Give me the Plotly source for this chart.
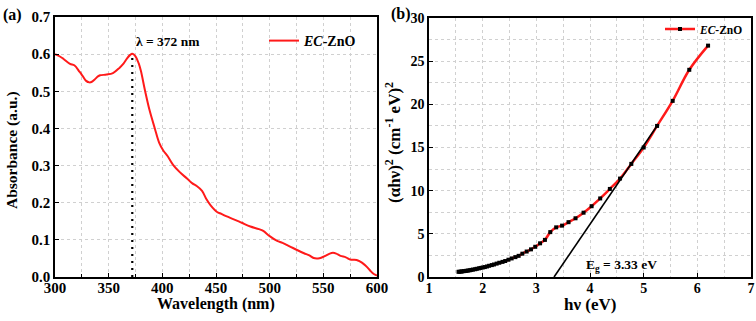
import plotly.graph_objects as go

# ---- Panel (a): absorbance spectrum ----
wavelength = [300, 305, 308, 314, 318, 323, 326, 329, 332, 334, 337, 340, 342, 348, 354, 360, 364, 367, 370, 372,
              375, 378, 380, 384, 388, 393, 397, 401, 405, 410, 416, 423, 428, 432, 437, 441, 445, 451, 455,
              460, 466, 474, 482, 490, 494, 500, 507, 512, 519, 526, 532, 537, 541, 545, 548, 552, 556, 559,
              562, 566, 571, 575, 581, 584, 588, 591, 594, 597, 600]
absorbance = [0.600, 0.593, 0.587, 0.574, 0.570, 0.552, 0.540, 0.528, 0.524, 0.525, 0.532, 0.540, 0.543, 0.545,
              0.549, 0.563, 0.575, 0.588, 0.598, 0.601,
              0.594, 0.575, 0.555, 0.500, 0.450, 0.400, 0.362, 0.340, 0.325, 0.302, 0.283, 0.265, 0.252, 0.245,
              0.232, 0.210, 0.193, 0.175, 0.170, 0.163, 0.156, 0.146, 0.136, 0.129, 0.124, 0.110, 0.097,
              0.092, 0.082, 0.072, 0.064, 0.058, 0.051, 0.050, 0.052, 0.057, 0.063, 0.065, 0.063, 0.057,
              0.053, 0.047, 0.046, 0.042, 0.034, 0.026, 0.016, 0.008, 0.004]
peak_wl = 372
peak_abs = 0.601

# ---- Panel (b): Tauc plot ----
hv = [6.20, 5.85, 5.54, 5.25, 5.00, 4.77, 4.56, 4.37, 4.19, 4.03, 3.88, 3.73, 3.60, 3.48, 3.37, 3.26, 3.16,
      3.07, 2.98, 2.90, 2.82, 2.74, 2.67, 2.61, 2.54, 2.48, 2.42, 2.37, 2.31, 2.26, 2.21, 2.17, 2.12, 2.08,
      2.04, 2.00, 1.96, 1.93, 1.89, 1.86, 1.82, 1.79, 1.76, 1.73, 1.70, 1.68, 1.65, 1.62, 1.60, 1.57, 1.55]
tauc = [26.8, 24.0, 20.4, 17.5, 15.0, 13.1, 11.4, 10.2, 9.1, 8.2, 7.45, 6.8, 6.35, 5.95, 5.75, 5.2, 4.3,
        3.9, 3.5, 3.2, 2.95, 2.7, 2.45, 2.3, 2.15, 2.0, 1.85, 1.75, 1.65, 1.55, 1.45, 1.38, 1.3, 1.22,
        1.15, 1.1, 1.05, 1.0, 0.95, 0.9, 0.86, 0.82, 0.78, 0.75, 0.72, 0.70, 0.68, 0.65, 0.63, 0.61, 0.60]
fit_x = [3.33, 5.27]
fit_y = [0.0, 17.7]

FONT = "Liberation Serif"
bold = dict(family=FONT, weight="bold", color="black")

W, H = 756, 321


def fx(px):
    return px / W


def fy(py):
    return 1 - py / H


fig = go.Figure()

fig.add_trace(go.Scatter(x=wavelength, y=absorbance, mode="lines", line=dict(color="#ff1a1a", width=2, shape="spline"),
                         name="<i>EC</i>-ZnO", xaxis="x", yaxis="y", legend="legend"))
fig.add_trace(go.Scatter(x=[peak_wl, peak_wl], y=[0, peak_abs], mode="lines",
                         line=dict(color="black", width=2.2, dash="2px,5px"), showlegend=False, xaxis="x", yaxis="y"))

fig.add_trace(go.Scatter(x=hv, y=tauc, mode="lines+markers", line=dict(color="#ff1a1a", width=2.5, shape="spline"),
                         marker=dict(symbol="square", size=4, color="black"),
                         name="<i>EC</i>-ZnO", xaxis="x2", yaxis="y2", legend="legend2"))
fig.add_trace(go.Scatter(x=fit_x, y=fit_y, mode="lines", line=dict(color="black", width=1.6),
                         showlegend=False, xaxis="x2", yaxis="y2"))

grid = dict(showgrid=True, gridcolor="#d0d0d0", griddash="dot", gridwidth=1)
axcommon = dict(showline=True, linecolor="black", linewidth=1.5, mirror=True, ticks="inside",
                ticklen=4, tickcolor="black", zeroline=False, automargin=False, **grid)

fig.update_layout(
    width=W, height=H,
    margin=dict(l=0, r=0, t=0, b=0, autoexpand=False),
    paper_bgcolor="white", plot_bgcolor="white",
    xaxis=dict(domain=[fx(55), fx(377)], range=[300, 600], dtick=50, tickfont=dict(size=15, **bold),
               minor=dict(dtick=25, showgrid=True, gridcolor="#d0d0d0", griddash="dot", ticks="inside",
                          ticklen=3, tickcolor="black"),
               anchor="y", ticklabelstandoff=-4, **axcommon),
    yaxis=dict(domain=[fy(277), fy(17)], range=[0, 0.7], dtick=0.1, tickformat=".1f",
               tickfont=dict(size=15, **bold), anchor="x", **axcommon),
    xaxis2=dict(domain=[fx(429), fx(751)], range=[1, 7], dtick=1, tickfont=dict(size=14, **bold),
                minor=dict(dtick=0.5, showgrid=True, gridcolor="#d0d0d0", griddash="dot"),
                anchor="y2", ticklabelstandoff=-3, **axcommon),
    yaxis2=dict(domain=[fy(277), fy(18)], range=[0, 30], dtick=5, tickfont=dict(size=14, **bold),
                minor=dict(dtick=2.5, showgrid=True, gridcolor="#d0d0d0", griddash="dot"),
                anchor="x2", ticklabelstandoff=0, **axcommon),
    legend=dict(x=fx(264), y=fy(41), xanchor="left", yanchor="middle", bgcolor="rgba(0,0,0,0)",
                font=dict(size=14, **bold), itemwidth=30),
    legend2=dict(x=fx(660), y=fy(29), xanchor="left", yanchor="middle", bgcolor="rgba(0,0,0,0)",
                 font=dict(size=11.5, **bold), itemwidth=30),
    annotations=[
        dict(text="(a)", x=fx(12), y=fy(15), xref="paper", yref="paper", xanchor="center", yanchor="middle",
             showarrow=False, font=dict(size=16, **bold)),
        dict(text="(b)", x=fx(401), y=fy(14), xref="paper", yref="paper", xanchor="center", yanchor="middle",
             showarrow=False, font=dict(size=16, **bold)),
        dict(text="λ = 372 nm", x=fx(168), y=fy(41), xref="paper", yref="paper", xanchor="center",
             yanchor="middle", showarrow=False, font=dict(size=13.5, **bold)),
        dict(text="E<sub>g</sub> = 3.33 eV", x=fx(621), y=fy(265), xref="paper", yref="paper", xanchor="center",
             yanchor="middle", showarrow=False, font=dict(size=13.5, **bold)),
        dict(text="Absorbance (a.u.)", x=fx(12), y=fy(150), xref="paper", yref="paper", textangle=-90,
             xanchor="center", yanchor="middle", showarrow=False, font=dict(size=15.5, **bold)),
        dict(text="Wavelength (nm)", x=fx(216), y=fy(304), xref="paper", yref="paper", xanchor="center",
             yanchor="middle", showarrow=False, font=dict(size=16, **bold)),
        dict(text="hν (eV)", x=fx(590), y=fy(304), xref="paper", yref="paper", xanchor="center",
             yanchor="middle", showarrow=False, font=dict(size=17, **bold)),
        dict(text="(αhν)<sup>2</sup> (cm<sup>-1</sup> eV)<sup>2</sup>", x=fx(393), y=fy(143), xref="paper",
             yref="paper", textangle=-90, xanchor="center", yanchor="middle", showarrow=False,
             font=dict(size=17, **bold)),
    ],
)

# remove the browser's default 8px body margin so the 756x321 figure fills the window exactly
fig.write_html("out.html", config={"displayModeBar": False},
               post_script="document.body.style.margin='0px';")
